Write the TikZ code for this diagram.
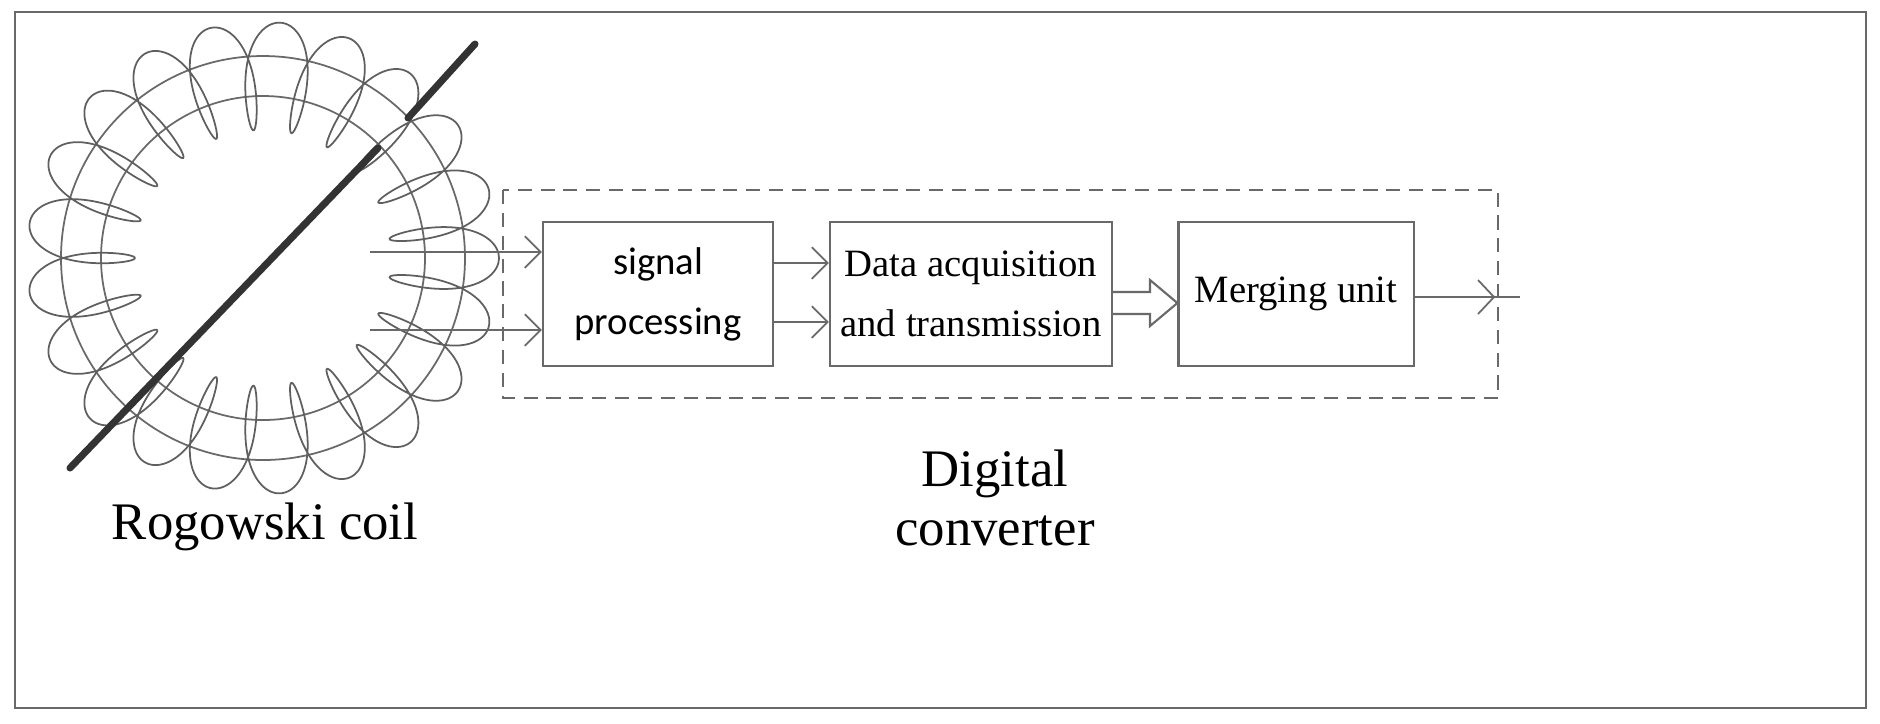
\documentclass[tikz,border=0pt]{standalone}
\usepackage{fontspec}
\setmainfont{Liberation Serif}
\newfontfamily\sansf{Carlito}
\usetikzlibrary{arrows.meta}
\definecolor{ln}{RGB}{105,105,105}
\tikzset{
 box/.style={draw=ln,line width=0.6pt,minimum width=2.3cm,minimum height=1.44cm,inner sep=0pt,align=center,font=\fontsize{11}{17}\selectfont},
 sig/.style={draw=ln,line width=0.5pt,-{Straight Barb[length=4.5pt,width=9pt]}},
 lbl/.style={font=\fontsize{15}{17}\selectfont,align=center}
}
\begin{document}
\begin{tikzpicture}[x=0.01cm,y=-0.01cm]
\useasboundingbox (0,0) rectangle (1880,723);
\draw[ln,line width=0.7pt] (15,12) rectangle (1866,708);
% coil
\draw[ln,line width=0.5pt] (263,258) circle[radius=202];
\draw[ln,line width=0.5pt] (263,258) circle[radius=162];
\draw[ln!90!black,line width=0.5pt] plot[domain=0:360,samples=900,smooth,variable=\t]
 ({263+(182+54*cos(21*\t))*cos(\t+5.5*sin(21*\t))},{258+(182+54*cos(21*\t))*sin(\t+5.5*sin(21*\t))});
\draw[black!80,line width=2pt,line cap=round] (70,468) -- (378,148);
\draw[black!80,line width=2pt,line cap=round] (408,118) -- (475,44);
% digital converter
\draw[ln,line width=0.6pt,dash pattern=on 4pt off 2.5pt] (503,190) rectangle (1498,398);
\node[box,font=\sansf\fontsize{11}{17}\selectfont] (sp) at (658,294) {signal\\processing};
\node[box,minimum width=2.82cm] (da) at (971,294) {Data acquisition\\and transmission};
\node[box,minimum width=2.35cm] (mu) at (1296,294) {Merging unit};
\coordinate (w1) at (370,252);
\coordinate (w2) at (370,330);
\coordinate (out) at (1520,297);
\draw[sig] (w1) -- (w1 -| sp.west);
\draw[sig] (w2) -- (w2 -| sp.west);
\draw[sig] (sp.east |- 0,263) -- (da.west |- 0,263);
\draw[sig] (sp.east |- 0,322) -- (da.west |- 0,322);
\draw[ln,line width=0.5pt] (mu.east |- out) -- (out);
\draw[ln,line width=0.5pt] (1478,280) -- (1494,297) -- (1478,314);
\draw[ln,line width=0.6pt,fill=white] (da.east |- 0,292) -- (1150,292) -- (1150,280) -- (mu.west |- 0,303) -- (1150,326) -- (1150,314) -- (da.east |- 0,314);
\node[lbl] (rc) at (265,527) {Rogowski coil};
\node[lbl] (dc) at (995,498) {Digital\\converter};
\end{tikzpicture}
\end{document}
